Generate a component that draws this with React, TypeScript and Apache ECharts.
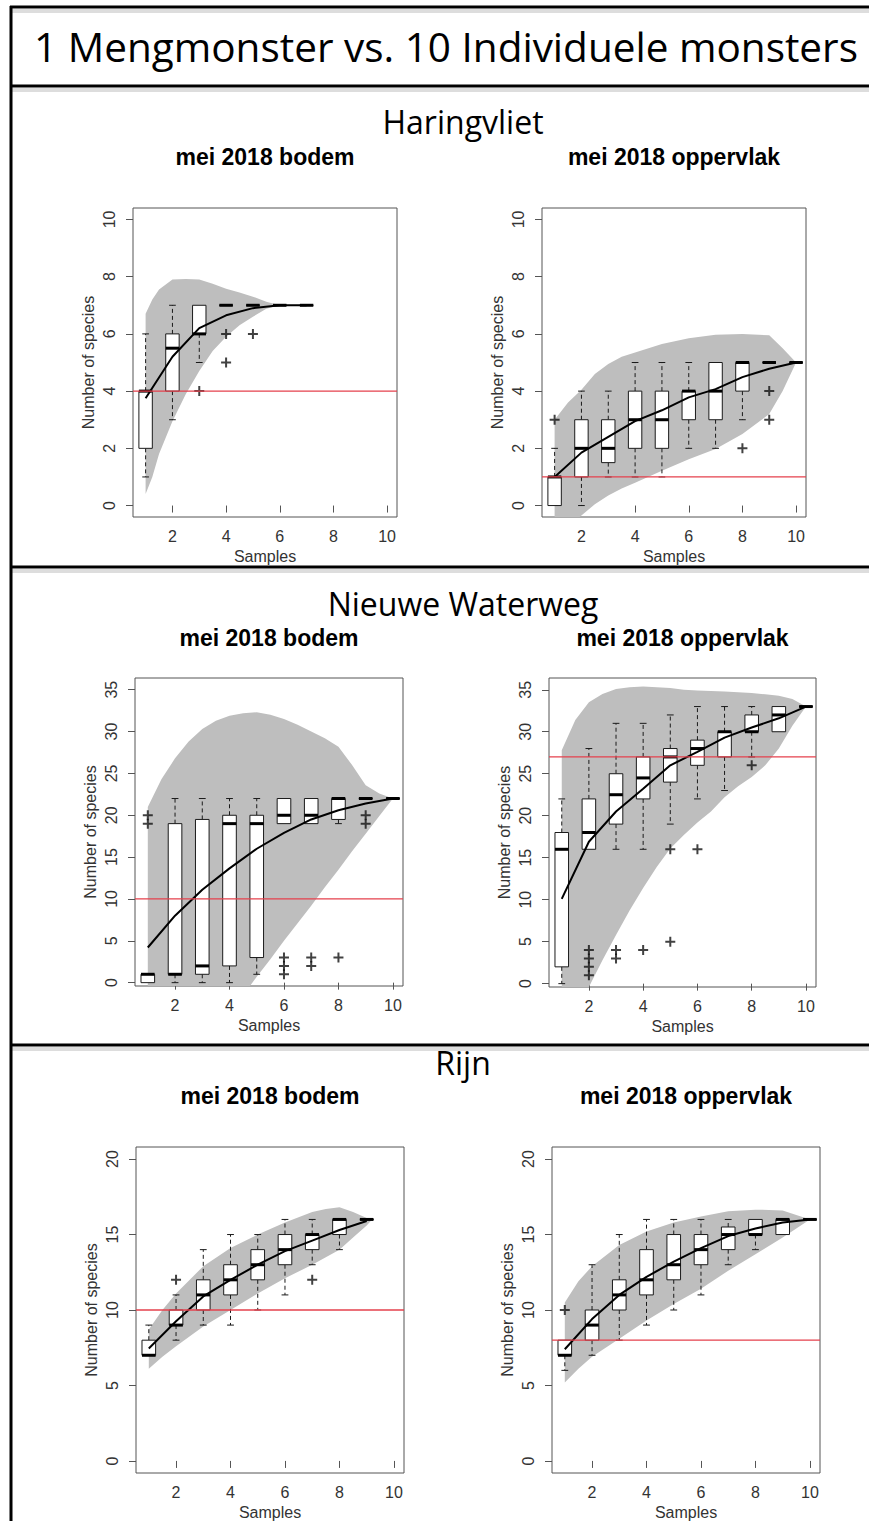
import React, { useEffect, useRef } from "react";
import * as echarts from "echarts";

const R_FONT = '"Liberation Sans", Arial, Helvetica, sans-serif';
const HEAD_FONT = '"Open Sans", "Noto Sans", sans-serif';

const mainTitle = "1 Mengmonster vs. 10 Individuele monsters";
const sectionNames = ["Haringvliet", "Nieuwe Waterweg", "Rijn"];
const panelTitles = ["mei 2018 bodem", "mei 2018 oppervlak"];
const xAxisName = "Samples";
const yAxisName = "Number of species";
const sampleTicks = [2, 4, 6, 8, 10];
const ticks10 = [0, 2, 4, 6, 8, 10];
const ticks35 = [0, 5, 10, 15, 20, 25, 30, 35];
const ticks20 = [0, 5, 10, 15, 20];

// species in the single pooled sample (red line), per panel
const mengmonster = [4, 1, 10, 27, 10, 8];

// ---------- Haringvliet bodem ----------
// [sample, min, q1, median, q3, max]
const hvBodemBoxes = [
  [1, 1, 2, 4, 4, 6],
  [2, 3, 4, 5.5, 6, 7],
  [3, 5, 6, 6, 7, 7],
  [4, 7, 7, 7, 7, 7],
  [5, 7, 7, 7, 7, 7],
  [6, 7, 7, 7, 7, 7],
  [7, 7, 7, 7, 7, 7],
];
const hvBodemOutliers = [[3, 4], [4, 6], [4, 5], [5, 6]];
const hvBodemCurveX = [1, 2, 3, 4, 5, 6, 7];
const hvBodemCurveY = [3.75, 5.2, 6.2, 6.65, 6.9, 7.0, 7.0];
const hvBodemBandX = [1, 1.25, 1.5, 2, 2.5, 3, 3.5, 4, 4.5, 5, 5.5, 6];
const hvBodemBandUp = [6.7, 7.2, 7.55, 7.9, 7.92, 7.9, 7.75, 7.58, 7.45, 7.3, 7.12, 7.0];
const hvBodemBandLo = [0.4, 1.0, 1.8, 2.95, 3.9, 4.7, 5.4, 5.9, 6.3, 6.6, 6.88, 7.0];

// ---------- Haringvliet oppervlak ----------
const hvOppBoxes = [
  [1, 0, 0, 1, 1, 2],
  [2, 0, 1, 2, 3, 4],
  [3, 1, 1.5, 2, 3, 4],
  [4, 1, 2, 3, 4, 5],
  [5, 1, 2, 3, 4, 5],
  [6, 2, 3, 4, 4, 5],
  [7, 2, 3, 4, 5, 5],
  [8, 3, 4, 5, 5, 5],
  [9, 5, 5, 5, 5, 5],
  [10, 5, 5, 5, 5, 5],
];
const hvOppOutliers = [[1, 3], [8, 2], [9, 4], [9, 3]];
const hvOppCurveX = [1, 2, 3, 4, 5, 6, 7, 8, 9, 10];
const hvOppCurveY = [1.0, 1.85, 2.4, 2.95, 3.33, 3.78, 4.07, 4.49, 4.78, 5.0];
const hvOppBandX = [1, 1.5, 2, 2.5, 3, 3.5, 4, 5, 6, 7, 8, 9, 9.5, 10];
const hvOppBandUp = [3.0, 3.6, 4.05, 4.6, 4.95, 5.2, 5.35, 5.65, 5.85, 5.97, 6.0, 5.95, 5.5, 5.0];
const hvOppBandLo = [-1.2, -0.75, -0.35, 0.05, 0.35, 0.6, 0.8, 1.22, 1.62, 1.98, 2.5, 3.2, 4.0, 5.0];

// ---------- Nieuwe Waterweg bodem ----------
const nwBodemBoxes = [
  [1, 0, 0, 1, 1, 1],
  [2, 0, 1, 1, 19, 22],
  [3, 0, 1, 2, 19.5, 22],
  [4, 0, 2, 19, 20, 22],
  [5, 1, 3, 19, 20, 22],
  [6, 19, 19, 20, 22, 22],
  [7, 19, 19, 20, 22, 22],
  [8, 19, 19.5, 22, 22, 22],
  [9, 22, 22, 22, 22, 22],
  [10, 22, 22, 22, 22, 22],
];
const nwBodemOutliers = [[1, 19], [1, 20], [6, 1], [6, 2], [6, 3], [7, 2], [7, 3], [8, 3], [9, 19], [9, 20]];
const nwBodemCurveX = [1, 2, 3, 4, 5, 6, 7, 8, 9, 10];
const nwBodemCurveY = [4.2, 8.0, 11.1, 13.65, 16.0, 17.9, 19.5, 20.6, 21.4, 22.0];
const nwBodemBandX = [1, 1.5, 2, 2.5, 3, 3.5, 4, 4.5, 5, 5.5, 6, 6.5, 7, 7.5, 8, 8.5, 9, 9.5, 10];
const nwBodemBandUp = [21.0, 24.3, 26.8, 28.8, 30.3, 31.3, 31.9, 32.2, 32.3, 32.0, 31.5, 30.8, 30.0, 29.2, 28.2, 26.0, 23.6, 22.6, 22.0];
const nwBodemBandLo = [-16, -14, -12, -10, -8, -5.8, -3.6, -1.5, 0.7, 2.8, 5.0, 7.1, 9.2, 11.4, 13.5, 15.7, 17.8, 19.9, 22.0];

// ---------- Nieuwe Waterweg oppervlak ----------
const nwOppBoxes = [
  [1, 0, 2, 16, 18, 22],
  [2, 16, 16, 18, 22, 28],
  [3, 16, 19, 22.5, 25, 31],
  [4, 16, 22, 24.5, 27, 31],
  [5, 19, 24, 27, 28, 32],
  [6, 22, 26, 28, 29, 33],
  [7, 23, 27, 30, 30, 33],
  [8, 27, 30, 30, 32, 33],
  [9, 30, 30, 32, 33, 33],
  [10, 33, 33, 33, 33, 33],
];
const nwOppOutliers = [[2, 1], [2, 2], [2, 3], [2, 4], [3, 3], [3, 4], [4, 4], [5, 16], [5, 5], [6, 16], [8, 26]];
const nwOppCurveX = [1, 2, 3, 4, 5, 6, 7, 8, 9, 10];
const nwOppCurveY = [10.1, 16.9, 20.5, 23.2, 26.0, 27.6, 29.3, 30.5, 31.6, 33.0];
const nwOppBandX = [1, 1.5, 2, 2.5, 3, 3.5, 4, 4.5, 5, 5.5, 6, 6.5, 7, 7.5, 8, 8.5, 9, 9.5, 10];
const nwOppBandUp = [27.8, 31.4, 33.5, 34.5, 35.1, 35.3, 35.4, 35.3, 35.2, 35.0, 34.9, 34.85, 34.8, 34.7, 34.6, 34.45, 34.3, 33.9, 33.0];
const nwOppBandLo = [-8, -3.8, -0.4, 2.8, 5.8, 8.7, 11.4, 13.9, 16.1, 17.7, 19.2, 20.5, 22.2, 23.5, 24.6, 26.0, 28.0, 30.7, 33.0];

// ---------- Rijn bodem ----------
const rjBodemBoxes = [
  [1, 7, 7, 7, 8, 9],
  [2, 8, 9, 9, 10, 11],
  [3, 9, 10, 11, 12, 14],
  [4, 9, 11, 12, 13, 15],
  [5, 10, 12, 13, 14, 15],
  [6, 11, 13, 14, 15, 16],
  [7, 13, 14, 15, 15, 16],
  [8, 14, 15, 16, 16, 16],
  [9, 16, 16, 16, 16, 16],
];
const rjBodemOutliers = [[2, 12], [7, 12]];
const rjBodemCurveX = [1, 2, 3, 4, 5, 6, 7, 8, 9];
const rjBodemCurveY = [7.45, 9.25, 10.9, 12.0, 13.0, 13.9, 14.6, 15.3, 15.9];
const rjBodemBandX = [1, 1.5, 2, 3, 4, 5, 6, 7, 7.5, 8, 8.5, 9, 9.2];
const rjBodemBandUp = [8.7, 10.0, 11.1, 12.9, 14.1, 15.0, 15.8, 16.5, 16.7, 16.8, 16.5, 16.1, 16.0];
const rjBodemBandLo = [6.1, 6.9, 7.6, 8.9, 10.0, 11.1, 12.1, 13.0, 13.5, 14.0, 14.8, 15.6, 16.0];

// ---------- Rijn oppervlak ----------
const rjOppBoxes = [
  [1, 6, 7, 7, 8, 8],
  [2, 7, 8, 9, 10, 13],
  [3, 8, 10, 11, 12, 15],
  [4, 9, 11, 12, 14, 16],
  [5, 10, 12, 13, 15, 16],
  [6, 11, 13, 14, 15, 16],
  [7, 13, 14, 15, 15.5, 16],
  [8, 14, 15, 15, 16, 16],
  [9, 15, 15, 16, 16, 16],
  [10, 16, 16, 16, 16, 16],
];
const rjOppOutliers = [[1, 10]];
const rjOppCurveX = [1, 2, 3, 4, 5, 6, 7, 8, 9, 10];
const rjOppCurveY = [7.4, 9.4, 11.0, 12.2, 13.2, 14.1, 14.9, 15.4, 15.8, 16.0];
const rjOppBandX = [1, 1.5, 2, 3, 4, 5, 6, 7, 8, 9, 9.5, 10];
const rjOppBandUp = [10.5, 11.9, 12.9, 14.3, 15.2, 15.8, 16.2, 16.55, 16.65, 16.6, 16.3, 16.0];
const rjOppBandLo = [5.2, 6.1, 6.9, 8.1, 9.3, 10.4, 11.4, 12.6, 13.7, 14.8, 15.4, 16.0];

const panels = [
  { boxes: hvBodemBoxes, outliers: hvBodemOutliers, cx: hvBodemCurveX, cy: hvBodemCurveY, bx: hvBodemBandX, bu: hvBodemBandUp, bl: hvBodemBandLo, yTicks: ticks10 },
  { boxes: hvOppBoxes, outliers: hvOppOutliers, cx: hvOppCurveX, cy: hvOppCurveY, bx: hvOppBandX, bu: hvOppBandUp, bl: hvOppBandLo, yTicks: ticks10 },
  { boxes: nwBodemBoxes, outliers: nwBodemOutliers, cx: nwBodemCurveX, cy: nwBodemCurveY, bx: nwBodemBandX, bu: nwBodemBandUp, bl: nwBodemBandLo, yTicks: ticks35 },
  { boxes: nwOppBoxes, outliers: nwOppOutliers, cx: nwOppCurveX, cy: nwOppCurveY, bx: nwOppBandX, bu: nwOppBandUp, bl: nwOppBandLo, yTicks: ticks35 },
  { boxes: rjBodemBoxes, outliers: rjBodemOutliers, cx: rjBodemCurveX, cy: rjBodemCurveY, bx: rjBodemBandX, bu: rjBodemBandUp, bl: rjBodemBandLo, yTicks: ticks20 },
  { boxes: rjOppBoxes, outliers: rjOppOutliers, cx: rjOppCurveX, cy: rjOppCurveY, bx: rjOppBandX, bu: rjOppBandUp, bl: rjOppBandLo, yTicks: ticks20 },
];

// layout (pixels) of each plot region and its axis extents
const layouts = [
  { left: 133, top: 208, width: 264, height: 309, yMin: -0.4, yMax: 10.4, titleY: 157 },
  { left: 542, top: 208, width: 264, height: 309, yMin: -0.4, yMax: 10.4, titleY: 157 },
  { left: 135, top: 678, width: 268, height: 308, yMin: -0.4, yMax: 36.4, titleY: 638 },
  { left: 549, top: 678, width: 267, height: 309, yMin: -0.4, yMax: 36.4, titleY: 638 },
  { left: 136, top: 1147, width: 268, height: 326, yMin: -0.8, yMax: 20.8, titleY: 1096 },
  { left: 552, top: 1147, width: 268, height: 326, yMin: -0.8, yMax: 20.8, titleY: 1096 },
];
const X_MIN = 0.53;
const X_MAX = 10.37;

const PLUS = "path://M4,0h2v4h4v2h-4v4h-2v-4h-4v-2h4z";
const INK = "#1a1a1a";
const AXIS_GREY = "#555555";
const BAND = "#BEBEBE";
const RED = "#E5404C";

function boxRender(params: any, api: any) {
  const x = api.value(0);
  const mn = api.value(1);
  const q1 = api.value(2);
  const md = api.value(3);
  const q3 = api.value(4);
  const mx = api.value(5);
  const hw = 0.25;
  const sw = 0.125;
  const c = (a: number, b: number) => api.coord([a, b]);
  const seg = (a: number[], b: number[], style: any) => ({
    type: "line",
    shape: { x1: a[0], y1: a[1], x2: b[0], y2: b[1] },
    style,
  });
  const dash = { stroke: INK, lineWidth: 1, lineDash: [4, 3], fill: null };
  const solid = { stroke: INK, lineWidth: 1, fill: null };
  const children: any[] = [];
  if (mx > q3) {
    children.push(seg(c(x, q3), c(x, mx), dash));
    children.push(seg(c(x - sw, mx), c(x + sw, mx), solid));
  }
  if (mn < q1) {
    children.push(seg(c(x, q1), c(x, mn), dash));
    children.push(seg(c(x - sw, mn), c(x + sw, mn), solid));
  }
  const tl = c(x - hw, q3);
  const br = c(x + hw, q1);
  children.push({
    type: "rect",
    shape: { x: tl[0], y: tl[1], width: br[0] - tl[0], height: br[1] - tl[1] },
    style: { fill: "#ffffff", stroke: INK, lineWidth: 1 },
  });
  children.push(seg(c(x - hw, md), c(x + hw, md), { stroke: "#000", lineWidth: 3, fill: null }));
  return { type: "group", children };
}

function buildOption() {
  const grid: any[] = [];
  const xAxis: any[] = [];
  const yAxis: any[] = [];
  const series: any[] = [];

  panels.forEach((p, i) => {
    const L = layouts[i];
    grid.push({
      left: L.left,
      top: L.top,
      width: L.width,
      height: L.height,
      show: true,
      borderColor: AXIS_GREY,
      borderWidth: 1,
      backgroundColor: "transparent",
    });
    xAxis.push({
      gridIndex: i,
      type: "value",
      min: X_MIN,
      max: X_MAX,
      name: xAxisName,
      nameLocation: "middle",
      nameGap: 31,
      nameTextStyle: { fontSize: 16, color: "#333", fontFamily: R_FONT },
      axisLine: { show: false },
      splitLine: { show: false },
      axisTick: { show: true, length: 7, customValues: sampleTicks, lineStyle: { color: AXIS_GREY } },
      axisLabel: { customValues: sampleTicks, fontSize: 16, color: "#333", margin: 11, fontFamily: R_FONT },
    });
    yAxis.push({
      gridIndex: i,
      type: "value",
      min: L.yMin,
      max: L.yMax,
      name: yAxisName,
      nameLocation: "middle",
      nameGap: 37,
      nameTextStyle: { fontSize: 16, color: "#333", fontFamily: R_FONT },
      axisLine: { show: false },
      splitLine: { show: false },
      axisTick: { show: true, length: 7, customValues: p.yTicks, lineStyle: { color: AXIS_GREY } },
      axisLabel: {
        customValues: p.yTicks,
        rotate: 90,
        align: "center",
        verticalAlign: "bottom",
        fontSize: 16,
        color: "#333",
        margin: 16,
        fontFamily: R_FONT,
      },
    });

    // confidence band
    series.push({
      type: "custom",
      xAxisIndex: i,
      yAxisIndex: i,
      clip: true,
      silent: true,
      data: p.bx.map((x, k) => [x, p.bl[k], p.bu[k]]),
      encode: { x: 0, y: [1, 2] },
      renderItem: (params: any, api: any) => {
        if (params.dataIndex !== 0) return null;
        const pts: number[][] = [];
        for (let k = 0; k < p.bx.length; k++) pts.push(api.coord([p.bx[k], p.bu[k]]));
        for (let k = p.bx.length - 1; k >= 0; k--) pts.push(api.coord([p.bx[k], p.bl[k]]));
        return { type: "polygon", shape: { points: pts }, style: { fill: BAND, stroke: null } };
      },
    });
    // accumulation curve
    series.push({
      type: "line",
      xAxisIndex: i,
      yAxisIndex: i,
      silent: true,
      showSymbol: false,
      symbol: "none",
      data: p.cx.map((x, k) => [x, p.cy[k]]),
      lineStyle: { color: "#000", width: 2 },
      itemStyle: { color: "#000" },
    });
    // boxplots
    series.push({
      type: "custom",
      xAxisIndex: i,
      yAxisIndex: i,
      silent: true,
      data: p.boxes,
      encode: { x: 0, y: [1, 2, 3, 4, 5] },
      renderItem: boxRender,
    });
    // outliers
    series.push({
      type: "scatter",
      xAxisIndex: i,
      yAxisIndex: i,
      silent: true,
      data: p.outliers,
      symbol: PLUS,
      symbolSize: 10,
      itemStyle: { color: "#111" },
    });
    // reference line (species in pooled sample)
    series.push({
      type: "line",
      xAxisIndex: i,
      yAxisIndex: i,
      silent: true,
      showSymbol: false,
      symbol: "none",
      data: [
        [X_MIN, mengmonster[i]],
        [X_MAX, mengmonster[i]],
      ],
      lineStyle: { color: RED, width: 1.3, type: "solid" },
      itemStyle: { color: RED },
      z: 4,
    });
  });

  const graphic: any[] = [];
  const hLines = [7, 86, 567, 1045];
  hLines.forEach((y) => {
    graphic.push({ type: "line", shape: { x1: 11, y1: y + 4, x2: 869, y2: y + 4 }, style: { stroke: "#dddddd", lineWidth: 4 } });
  });
  hLines.forEach((y) => {
    graphic.push({ type: "line", shape: { x1: 10, y1: y, x2: 869, y2: y }, style: { stroke: "#000", lineWidth: 3 } });
  });
  graphic.push({ type: "line", shape: { x1: 11, y1: 6, x2: 11, y2: 1521 }, style: { stroke: "#000", lineWidth: 3 } });

  const text = (str: string, x: number, y: number, font: string) => ({
    type: "text",
    x,
    y,
    style: {
      text: str,
      font,
      fill: "#000",
      align: "center",
      textAlign: "center",
      verticalAlign: "middle",
      textVerticalAlign: "middle",
    },
  });
  graphic.push(text(mainTitle, 446, 46, `40.5px ${HEAD_FONT}`));
  const sectionY = [121, 603, 1062];
  sectionNames.forEach((s, k) => graphic.push(text(s, 463, sectionY[k], `32px ${HEAD_FONT}`)));
  layouts.forEach((L, i) => {
    graphic.push(text(panelTitles[i % 2], L.left + L.width / 2, L.titleY, `bold 23px ${R_FONT}`));
  });

  return {
    animation: false,
    backgroundColor: "#ffffff",
    textStyle: { fontFamily: R_FONT },
    grid,
    xAxis,
    yAxis,
    series,
    graphic,
  };
}

export default function App() {
  const ref = useRef<HTMLDivElement>(null);
  useEffect(() => {
    document.body.style.margin = "0";
    document.body.style.overflow = "hidden";
    const chart = echarts.init(ref.current as HTMLDivElement, null, { renderer: "svg" });
    chart.setOption(buildOption() as any);
    return () => chart.dispose();
  }, []);
  return <div ref={ref} style={{ width: 869, height: 1521 }} />;
}
